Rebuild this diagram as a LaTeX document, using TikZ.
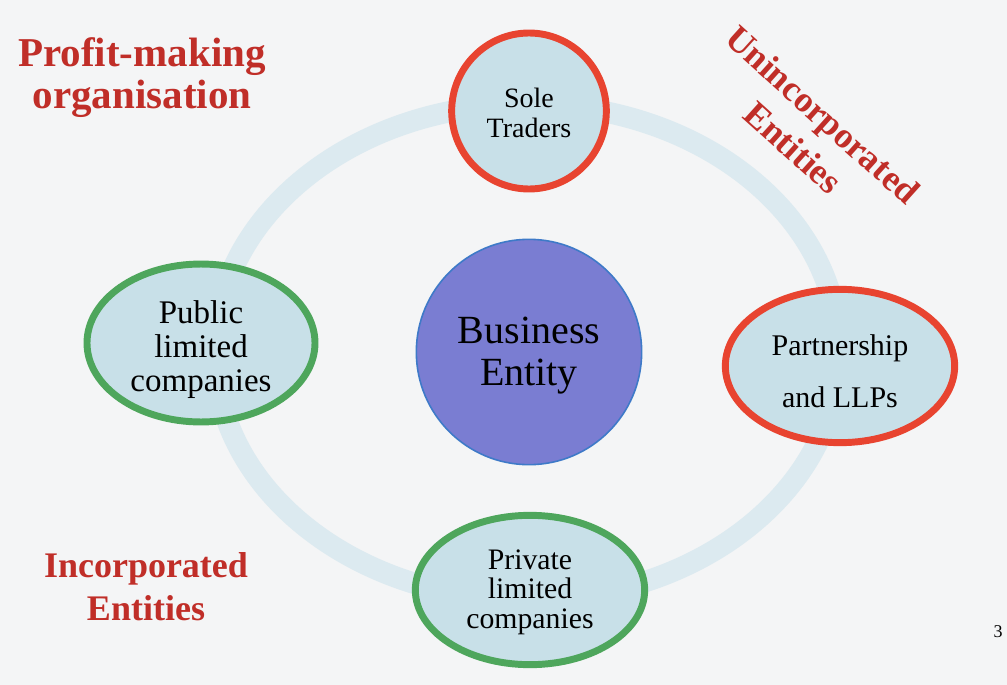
\documentclass[tikz,border=0pt]{standalone}
\usepackage{fontspec}
\setmainfont{Liberation Serif}
\usetikzlibrary{shapes.geometric}
\definecolor{bgc}{RGB}{244,245,246}
\definecolor{ringc}{RGB}{220,234,240}
\definecolor{cellfill}{RGB}{200,224,232}
\definecolor{redb}{RGB}{232,68,48}
\definecolor{greenb}{RGB}{78,166,92}
\definecolor{hubfill}{RGB}{122,125,210}
\definecolor{hubline}{RGB}{62,122,200}
\definecolor{titlered}{RGB}{192,46,40}
\newcommand{\topstrut}[1]{\rule{0pt}{#1}}
\tikzset{
  cell/.style={ellipse, fill=cellfill, line width=5.2pt, inner sep=0pt, align=center, text=black},
  redcell/.style={cell, draw=redb},
  greencell/.style={cell, draw=greenb},
  hub/.style={circle, fill=hubfill, draw=hubline, line width=1.2pt, minimum size=169pt, inner sep=0pt, align=center},
  title/.style={text=titlered, font=\bfseries, align=center, inner sep=0pt},
  ring/.style={draw=ringc, line width=16pt}
}
\begin{document}
\begin{tikzpicture}[x=0.75pt,y=-0.75pt]
\useasboundingbox[fill=bgc] (0,0) rectangle (1007,685);
% background ring
\draw[ring] (527,352) ellipse [x radius=312, y radius=248];
% hub
\node[hub, font=\fontsize{30}{32}\selectfont] (hub) at (529,352) {\topstrut{25pt}Business\\Entity};
% satellites
\node[redcell, minimum width=116pt, minimum height=117pt, font=\fontsize{21}{22.5}\selectfont] (sole) at (529,111) {\topstrut{17pt}Sole\\Traders};
\node[redcell, minimum width=172pt, minimum height=115pt, font=\fontsize{22.5}{39}\selectfont] (part) at (840,366) {\topstrut{23pt}Partnership\\and LLPs};
\node[greencell, minimum width=171pt, minimum height=115pt, font=\fontsize{24.75}{25.5}\selectfont] (plc) at (201,343) {\topstrut{27.5pt}Public\\limited\\companies};
\node[greencell, minimum width=172pt, minimum height=112pt, font=\fontsize{22.3}{22}\selectfont] (ltd) at (530,590) {\topstrut{18pt}Private\\limited\\companies};
% titles
\node[title, font=\fontsize{30.75}{31.5}\selectfont\bfseries] (profit) at (142,78) {Profit-making\\organisation};
\node[title, font=\fontsize{27}{32}\selectfont\bfseries] (inc) at (146,587) {Incorporated\\Entities};
\node[title, font=\fontsize{27}{33}\selectfont\bfseries, rotate=-42] (uninc) at (808,131) {Unincorporated\\Entities};
\node[font=\fontsize{13.5}{15}\selectfont, inner sep=0pt] (pg) at (998,632) {3};
\end{tikzpicture}
\end{document}
